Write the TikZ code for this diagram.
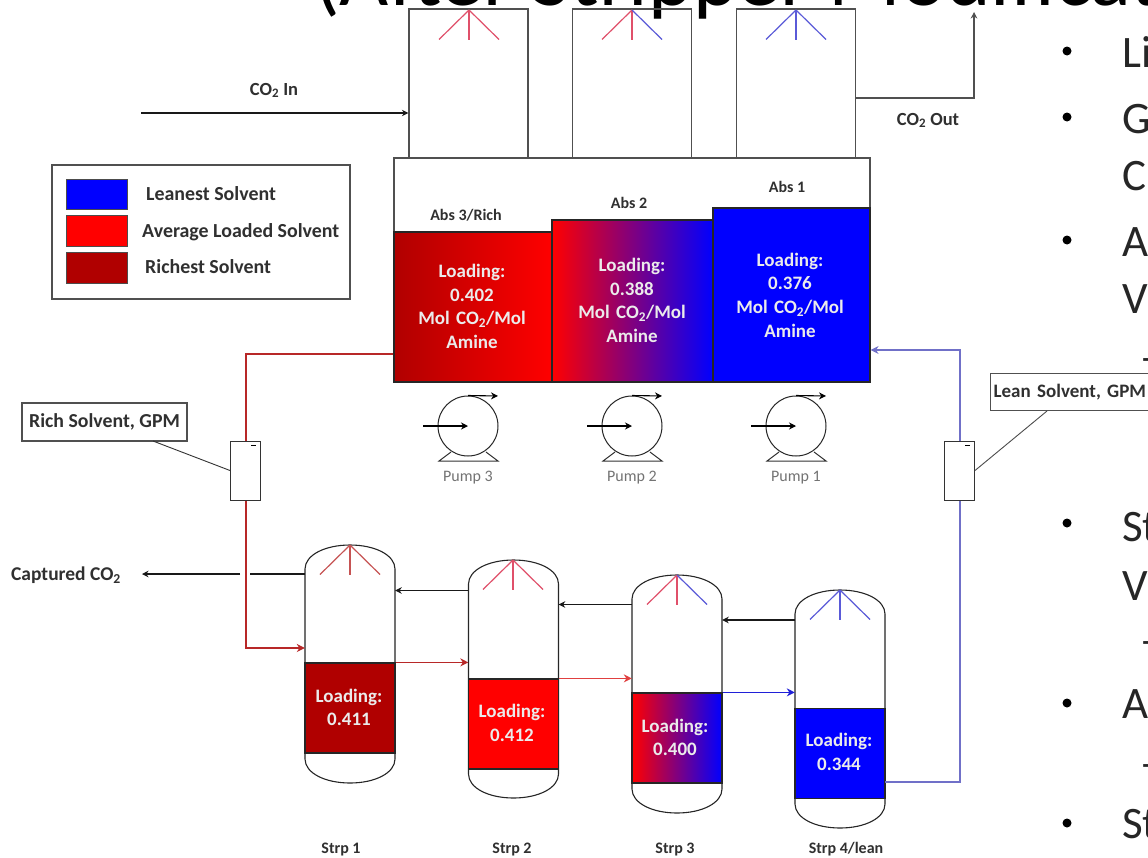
\documentclass[tikz,border=0pt]{standalone}
\usepackage{fontspec}
\setmainfont{Carlito}
\usetikzlibrary{arrows.meta,calc}
\definecolor{rich}{HTML}{B00000}
\definecolor{avg}{HTML}{FF0000}
\definecolor{lean}{HTML}{0000FF}
\definecolor{sprayred}{HTML}{E0506A}
\definecolor{sprayblue}{HTML}{5A5AD8}
\definecolor{richline}{HTML}{B82828}
\definecolor{redline}{HTML}{E04040}
\definecolor{blueline}{HTML}{2020D8}
\definecolor{leanline}{HTML}{7070C8}
\definecolor{labelgray}{HTML}{303030}
\definecolor{linegray}{HTML}{505050}
\newcommand{\fs}[2]{\fontsize{#1}{#2}\selectfont}
\tikzset{
  vesselline/.style={draw=black!85,line width=1.1pt},
  towerbox/.style={draw=linegray,line width=1.2pt,minimum width=119pt,minimum height=149pt,inner sep=0pt},
  bed/.style={draw=black!85,line width=1.2pt,inner sep=0pt},
  abslabel/.style={text=labelgray,font=\fs{16}{16}\bfseries,inner sep=0pt},
  streamlabel/.style={text=labelgray,font=\fs{18.5}{19}\bfseries,inner sep=0pt},
  loadtext/.style={text=white!92!black,font=\fs{19}{23.7}\bfseries,align=center,inner sep=0pt},
  legendtext/.style={text=labelgray,font=\fs{19.9}{20}\bfseries,anchor=west,inner sep=0pt},
  swatch/.style={draw=black!70,line width=1pt,minimum width=61pt,minimum height=30.5pt,inner sep=0pt},
  callout/.style={draw=linegray,fill=white,line width=1.2pt,inner sep=0pt,text=labelgray,font=\fs{19.8}{20}\bfseries},
  meter/.style={draw=black!80,fill=white,line width=1pt,minimum width=30pt,minimum height=59pt,inner sep=0pt},
  flow/.style={-{Stealth[length=8pt,width=8pt]},line width=1.2pt},
  gasflow/.style={-{Stealth[length=6.5pt,width=6.5pt]},line width=1.1pt,draw=black!90},
  pumpbody/.style={circle,draw=black!85,line width=1pt,minimum size=60pt,inner sep=0pt},
  pumpflow/.style={-{Stealth[length=7pt,width=7pt]},line width=1.1pt},
  pumplabel/.style={text=black!55,font=\fs{16}{16},inner sep=0pt},
  sprayleg/.style={line width=1.2pt},
  bigtext/.style={text=black!85,font=\fs{45}{45},anchor=base west,inner sep=0pt},
  dot/.style={circle,fill=black,inner sep=0pt,minimum size=9pt},
}
% spray name, x, y, colours
\newcommand{\spray}[6]{%
  \coordinate (#1) at (#2,#3);
  \draw[sprayleg,draw=#4] (#1) -- ++(-30,29.5);
  \draw[sprayleg,draw=#5] (#1) -- ++(0,30);
  \draw[sprayleg,draw=#6] (#1) -- ++(30,29.5);
}
% vessel name, centre x, apex y
\newcommand{\vessel}[3]{%
  \node[minimum width=90pt,minimum height=238pt,inner sep=0pt] (#1) at (#2,#3+119) {};
  \draw[vesselline] (#2-45,#3+24)
     .. controls (#2-45,#3+10) and (#2-25,#3) .. (#2,#3)
     .. controls (#2+25,#3) and (#2+45,#3+10) .. (#2+45,#3+24)
     -- (#2+45,#3+214)
     .. controls (#2+45,#3+228) and (#2+25,#3+238) .. (#2,#3+238)
     .. controls (#2-25,#3+238) and (#2-45,#3+228) .. (#2-45,#3+214)
     -- cycle;
}
% pump name, x, label
\newcommand{\pump}[3]{%
  \node[pumpbody] (#1) at (#2,426) {};
  \coordinate (#1in) at (#2-45,426);
  \coordinate (#1out) at (#2+30,396);
  \coordinate (#1fl) at (#2-29,461);
  \coordinate (#1fr) at (#2+30,461);
  \draw[pumpflow] (#1in) -- (#1.center);
  \draw[pumpflow] (#1.north) -- (#1out);
  \draw[line width=1pt,draw=black!80] (#2-17,452) -- (#1fl) -- (#1fr) -- (#2+18,452);
  \node[pumplabel] (#1lab) at (#2,477.5) {#3};
}
\begin{document}
\begin{tikzpicture}[x=1pt,y=-1pt]
\useasboundingbox (0,0) rectangle (1148,857);
\clip (0,0) rectangle (1148,857);
\fill[white] (0,0) rectangle (1148,857);

% cropped slide title and bullets
\node[text=black,font=\fs{85}{85},anchor=base west,inner sep=0pt] (title) at (314,5) {(After Stripper Modificat};
\node[bigtext] (b1) at (1122,67) {Li};
\node[bigtext] (b2) at (1122,133) {G};
\node[bigtext] (b3) at (1122,190) {C};
\node[bigtext] (b4) at (1122,256) {A};
\node[bigtext] (b5) at (1122,313) {V};
\node[bigtext] (b6) at (1140,372) {–};
\node[bigtext] (b7) at (1122,541) {St};
\node[bigtext] (b8) at (1122,600) {V};
\node[bigtext] (b9) at (1140,655) {–};
\node[bigtext] (b10) at (1122,718) {A};
\node[bigtext] (b11) at (1140,778) {–};
\node[bigtext] (b12) at (1122,838) {St};
\foreach \n/\y in {d1/51,d2/117,d3/240,d4/523,d5/703,d6/823} \node[dot] (\n) at (1067,\y) {};

% absorber tops
\node[towerbox] (a3top) at (468.5,83.5) {};
\node[towerbox] (a2top) at (632,83.5) {};
\node[towerbox] (a1top) at (796,83.5) {};
\spray{sa3}{469}{10}{sprayred}{sprayred}{sprayred}
\spray{sa2}{632}{10}{sprayred}{sprayred}{sprayblue}
\spray{sa1}{796}{10}{sprayblue}{sprayblue}{sprayblue}

% CO2 in / out
\coordinate (co2start) at (141,113);
\draw[gasflow] (co2start) -- (co2start -| a3top.west);
\node[streamlabel] (co2in) at (274,90.5) {CO\textsubscript{2} In};
\coordinate (outcorner) at (974,98);
\coordinate (outend) at (974,12);
\draw[gasflow,draw=linegray] (outcorner -| a1top.east) -- (outcorner) -- (outend);
\node[streamlabel] (co2out) at (928,120.5) {CO\textsubscript{2} Out};

% absorber sump
\node[draw=linegray,line width=1.2pt,minimum width=476pt,minimum height=224pt,inner sep=0pt] (sump) at (632,270) {};
\node[bed,minimum width=158pt,minimum height=150pt,left color=rich,right color=avg] (a3) at (473,307) {};
\node[bed,minimum width=161pt,minimum height=162pt,left color=avg,right color=lean] (a2) at (632.5,301) {};
\node[bed,minimum width=157pt,minimum height=174pt,fill=lean] (a1) at (791.5,295) {};
\node[abslabel] (a3name) at (466,215) {Abs 3/Rich};
\node[abslabel] (a2name) at (629,203) {Abs 2};
\node[abslabel] (a1name) at (787,187) {Abs 1};
\node[loadtext,text width=150pt] (a3t) at (472,306.5) {Loading:\\0.402\\Mol CO\textsubscript{2}/Mol\\Amine};
\node[loadtext,text width=150pt] (a2t) at (632,300.5) {Loading:\\0.388\\Mol CO\textsubscript{2}/Mol\\Amine};
\node[loadtext,text width=150pt] (a1t) at (790,295) {Loading:\\0.376\\Mol CO\textsubscript{2}/Mol\\Amine};

% legend
\node[draw=linegray,fill=white,line width=1.3pt,minimum width=298pt,minimum height=134pt,inner sep=0pt] (legend) at (201,232) {};
\node[swatch,fill=lean] (l1) at (96.5,194.5) {};
\node[swatch,fill=avg] (l2) at (96.5,231) {};
\node[swatch,fill=rich] (l3) at (96.5,268) {};
\node[legendtext] (lt1) at (146,194) {Leanest Solvent};
\node[legendtext] (lt2) at (142,232) {Average Loaded Solvent};
\node[legendtext] (lt3) at (145,267) {Richest Solvent};

% pumps
\pump{p3}{468}{Pump 3}
\pump{p2}{632}{Pump 2}
\pump{p1}{796}{Pump 1}

% strippers
\vessel{s1}{350}{545}
\vessel{s2}{513.5}{560}
\vessel{s3}{677}{575}
\vessel{s4}{840}{590}
\node[bed,minimum width=90pt,minimum height=90pt,fill=rich] (s1b) at (350,708) {};
\node[bed,minimum width=90pt,minimum height=90pt,fill=avg] (s2b) at (513.5,724) {};
\node[bed,minimum width=90pt,minimum height=90pt,left color=avg,right color=lean] (s3b) at (677,738) {};
\node[bed,minimum width=90pt,minimum height=90pt,fill=lean] (s4b) at (840,753.5) {};
\node[loadtext,text width=85pt] (s1t) at (349,707.5) {Loading:\\0.411};
\node[loadtext,text width=85pt] (s2t) at (512,723) {Loading:\\0.412};
\node[loadtext,text width=85pt] (s3t) at (675,737.5) {Loading:\\0.400};
\node[loadtext,text width=85pt] (s4t) at (839,752) {Loading:\\0.344};
\spray{ss1}{350}{545}{richline!80!white}{richline!80!white}{richline!80!white}
\spray{ss2}{513}{560}{sprayred}{sprayred}{sprayred}
\spray{ss3}{677}{575}{sprayred}{sprayred}{sprayblue}
\spray{ss4}{840}{590}{sprayblue}{sprayblue}{sprayblue}
\node[abslabel] (s1n) at (341,849) {Strp 1};
\node[abslabel] (s2n) at (512,849) {Strp 2};
\node[abslabel] (s3n) at (675,849) {Strp 3};
\node[abslabel] (s4n) at (846,849) {Strp 4/lean};

% rich solvent line
\coordinate (richtop) at (246,354);
\coordinate (richlow) at (246,648);
\draw[flow,draw=richline] (richtop -| a3.west) -- (richtop) -- (richlow) -- (richlow -| s1.west);
\node[meter] (mrich) at (245.5,470.5) {};
\draw[line width=.8pt] (251,445) -- (256,445);
\node[callout,minimum width=165pt,minimum height=38pt] (crich) at (104.5,422) {Rich Solvent, GPM};
\coordinate (crichfoot) at (153,441);
\draw[line width=.9pt,draw=black!80] (crichfoot) -- (mrich.west);

% captured CO2
\node[streamlabel,font=\fs{19.5}{20}\bfseries] (cap) at (66,575) {Captured CO\textsubscript{2}};
\coordinate (capend) at (142,574);
\coordinate (gapr) at (250,574);
\coordinate (gapl) at (240,574);
\draw[line width=1.1pt,draw=black!90] (s1.west |- capend) -- (gapr);
\draw[gasflow] (gapl) -- (capend);

% stripper vapour lines
\coordinate (v21) at (0,590.5);
\coordinate (v32) at (0,604.5);
\coordinate (v43) at (0,620);
\draw[gasflow] (s2.west |- v21) -- (s1.east |- v21);
\draw[gasflow] (s3.west |- v32) -- (s2.east |- v32);
\draw[gasflow] (s4.west |- v43) -- (s3.east |- v43);

% stripper liquid lines
\draw[flow,draw=richline] (s1b.north east) -- (s2.west |- s1b.north);
\draw[flow,draw=redline] (s2b.north east) -- (s3.west |- s2b.north);
\draw[flow,draw=blueline] (s3b.north east) -- (s4.west |- s3b.north);

% lean line
\coordinate (leanlow) at (960,782);
\coordinate (leantop) at (960,350);
\draw[flow,draw=leanline] (s4.east |- leanlow) -- (leanlow) -- (leantop) -- (leantop -| a1.east);
\node[meter] (mlean) at (959.5,470.5) {};
\draw[line width=.8pt] (965,445) -- (970,445);
\node[callout,font=\fs{19}{20}\bfseries,anchor=west,minimum width=170pt,minimum height=37pt,text width=165pt,align=left] (clean) at (989.5,392) {\hspace*{1pt}Lean Solvent, GPM};
\coordinate (cleanfoot) at (1047,411);
\draw[line width=.9pt,draw=black!70] (cleanfoot) -- (mlean.east);
\end{tikzpicture}
\end{document}
